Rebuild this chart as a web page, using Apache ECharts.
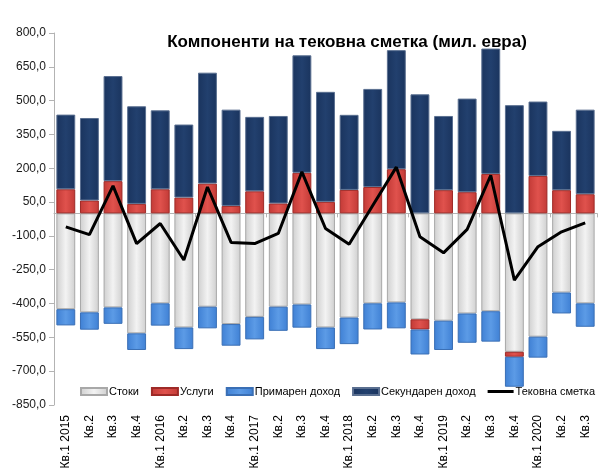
<!DOCTYPE html>
<html>
<head>
<meta charset="utf-8">
<script src="https://cdn.jsdelivr.net/npm/echarts@6/dist/echarts.min.js"></script>
<style>
html,body{margin:0;padding:0;background:#fff;}
#chart{width:605px;height:472px;}
</style>
</head>
<body>
<div id="chart"></div>
<script>
const categories = ['Кв.1 2015','Кв.2','Кв.3','Кв.4','Кв.1 2016','Кв.2','Кв.3','Кв.4','Кв.1 2017','Кв.2','Кв.3','Кв.4','Кв.1 2018','Кв.2','Кв.3','Кв.4','Кв.1 2019','Кв.2','Кв.3','Кв.4','Кв.1 2020','Кв.2','Кв.3'];
const stoki = [-425,-439,-417,-532,-399,-506,-414,-491,-459,-414,-404,-506,-462,-399,-395,-470,-476,-444,-434,-614,-547,-351,-399];
const uslugi = [107,57,143,42,107,70,132,33,98,44,180,51,104,117,196,-45,103,94,175,-22,166,103,85];
const primaren = [-72,-77,-73,-74,-99,-96,-96,-96,-100,-107,-103,-96,-118,-116,-115,-111,-130,-130,-135,-133,-93,-93,-104];
const sekundaren = [331,366,466,433,350,324,492,427,330,388,521,488,333,435,528,528,329,415,556,480,330,263,375];
const tekushta = [-60,-94,122,-134,-45,-207,117,-129,-134,-89,184,-67,-137,35,205,-104,-175,-71,169,-296,-148,-82,-42];
const yTicks = {min:-850, max:800, interval:150};

function hgrad(edge, mid){
  return new echarts.graphic.LinearGradient(0,0,1,0,[
    {offset:0,color:edge},{offset:0.5,color:mid},{offset:1,color:edge}
  ]);
}
const FONT = 'Liberation Sans';
const chart = echarts.init(document.getElementById('chart'), null, {renderer:'canvas'});
const styles = {
  'Стоки': ['#cfcfcf','#f3f3f3','#a8a8a8'],
  'Услуги': ['#c23a36','#e0524d','#9e2a27'],
  'Примарен доход': ['#3f80d4','#5c9be6','#3a6fb5'],
  'Секундарен доход': ['#1a345e','#22406e','#5a6f90']
};
function barSeries(name, data){
  const s = styles[name];
  return {
    name, type:'bar', stack:'total', stackStrategy:'samesign',
    xAxisIndex:0, data, barCategoryGap:'20%',
    itemStyle:{color:hgrad(s[0], s[1]), borderColor:s[2], borderWidth:1},
    emphasis:{disabled:true}
  };
}
chart.setOption({
  animation:false,
  backgroundColor:'#ffffff',
  title:{
    text:'Компоненти на тековна сметка (мил. евра)',
    left:342, top:29, textAlign:'center',
    textStyle:{fontFamily:FONT, fontSize:17, fontWeight:'bold', color:'#000'}
  },
  legend:{
    left:80, top:386, width:525, padding:0, itemWidth:26, itemHeight:7, itemGap:12,
    textStyle:{fontFamily:FONT, fontSize:11, color:'#000', padding:[0,0,0,-3]},
    data:[
      {name:'Стоки', icon:'rect'},
      {name:'Услуги', icon:'rect'},
      {name:'Примарен доход', icon:'rect'},
      {name:'Секундарен доход', icon:'rect'},
      {name:'Тековна сметка', icon:'path://M0,0L26,0L26,3L0,3Z', itemStyle:{color:'#000', borderWidth:0}}
    ]
  },
  grid:{left:54, right:8, top:33, bottom:67, containLabel:false},
  xAxis:[
    {
      type:'category', data:categories, position:'bottom',
      axisLine:{show:false, onZero:false}, axisTick:{show:false},
      axisLabel:{rotate:90, margin:10, interval:0, fontFamily:FONT, fontSize:12, color:'#000'}
    },
    {
      type:'category', data:categories, position:'bottom',
      axisLine:{show:true, onZero:true, lineStyle:{color:'#b3b3b3', width:1}},
      axisTick:{show:true, length:4, lineStyle:{color:'#b3b3b3'}},
      axisLabel:{show:false}
    }
  ],
  yAxis:{
    type:'value', min:yTicks.min, max:yTicks.max, interval:yTicks.interval,
    splitLine:{show:false},
    axisLine:{show:true, lineStyle:{color:'#b3b3b3'}},
    axisTick:{show:true, length:5, lineStyle:{color:'#b3b3b3'}},
    axisLabel:{fontFamily:FONT, fontSize:12, color:'#1a1a1a', margin:8,
      formatter:v=>v.toFixed(1).replace('.',',')}
  },
  series:[
    barSeries('Стоки', stoki),
    barSeries('Услуги', uslugi),
    barSeries('Примарен доход', primaren),
    barSeries('Секундарен доход', sekundaren),
    {
      name:'Тековна сметка', type:'line', xAxisIndex:0, data:tekushta,
      symbol:'none', lineStyle:{color:'#000', width:3}, itemStyle:{color:'#000'},
      z:5
    }
  ]
});
</script>
</body>
</html>
